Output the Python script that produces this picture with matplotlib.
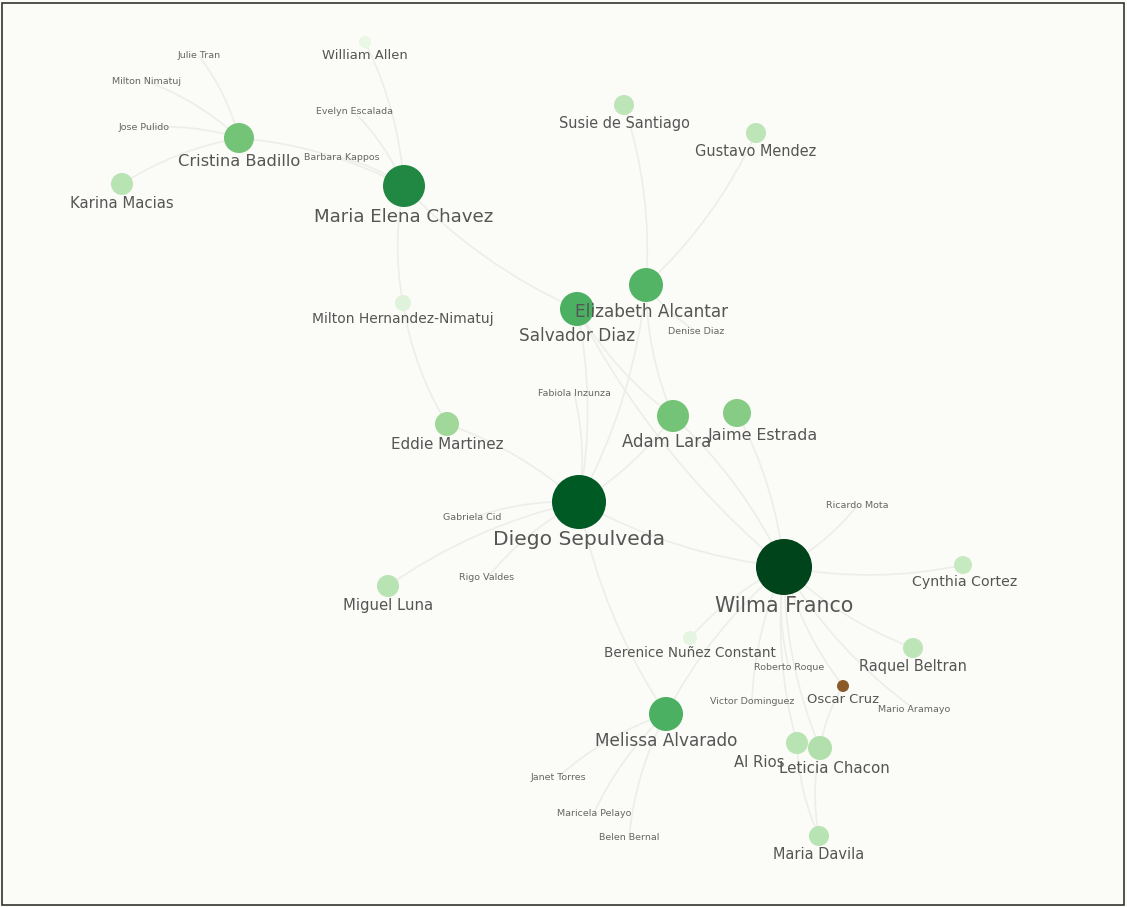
import numpy as np
import matplotlib
matplotlib.use("Agg")
import matplotlib.pyplot as plt
from matplotlib.patches import Circle, PathPatch, Rectangle
from matplotlib.path import Path

# node layout (pixel coords of the original graph), size = weight radius, shade = 0..1 on Greens
names = ["Cristina Badillo", "Karina Macias", "Maria Elena Chavez", "Susie de Santiago",
         "Gustavo Mendez", "Elizabeth Alcantar", "Salvador Diaz", "Milton Hernandez-Nimatuj",
         "Eddie Martinez", "Adam Lara", "Jaime Estrada", "Diego Sepulveda", "Miguel Luna",
         "Wilma Franco", "Cynthia Cortez", "Raquel Beltran", "Oscar Cruz", "Melissa Alvarado",
         "Al Rios", "Leticia Chacon", "Maria Davila", "Berenice Nuñez Constant", "William Allen"]
node_x = [239, 122, 404, 624, 756, 646, 577, 403, 447, 673, 737, 579, 388,
          784, 963, 913, 843, 666, 797, 820, 819, 690, 365]
node_y = [138, 184, 186, 105, 133, 285, 309, 303, 424, 416, 413, 502, 586,
          567, 565, 648, 686, 714, 743, 748, 836, 638, 42]
node_r = [15, 11, 21, 10, 10, 17, 17, 8, 12, 16, 14, 27, 11,
          28, 9, 10, 6, 17, 11, 12, 10, 7, 6]
node_shade = [0.50, 0.30, 0.76, 0.28, 0.28, 0.58, 0.60, 0.15, 0.38, 0.50, 0.45, 0.93, 0.30,
              1.00, 0.25, 0.28, -1, 0.60, 0.30, 0.32, 0.30, 0.12, 0.10]
# where each name sits relative to its dot (most are centred underneath)
label_dx = [0, 0, 0, 0, 0, 6, 0, 0, 0, -6, 26, 0, 0,
            0, 2, 0, 0, 0, -38, 14, 0, 0, 0]

# small people without a visible dot
minor_names = ["Julie Tran", "Milton Nimatuj", "Jose Pulido", "Evelyn Escalada", "Barbara Kappos",
               "Denise Diaz", "Fabiola Inzunza", "Gabriela Cid", "Rigo Valdes", "Ricardo Mota",
               "Roberto Roque", "Victor Dominguez", "Mario Aramayo", "Janet Torres",
               "Maricela Pelayo", "Belen Bernal"]
minor_x = [199, 146, 144, 354, 342, 696, 574, 472, 487, 857, 789, 752, 914, 558, 594, 629]
minor_y = [56, 81, 128, 112, 158, 331, 393, 518, 578, 506, 668, 702, 709, 777, 813, 838]

edges = [("Diego Sepulveda", "Wilma Franco"), ("Diego Sepulveda", "Salvador Diaz"),
         ("Diego Sepulveda", "Adam Lara"), ("Diego Sepulveda", "Eddie Martinez"),
         ("Diego Sepulveda", "Miguel Luna"), ("Diego Sepulveda", "Melissa Alvarado"),
         ("Diego Sepulveda", "Gabriela Cid"), ("Diego Sepulveda", "Fabiola Inzunza"),
         ("Diego Sepulveda", "Rigo Valdes"), ("Diego Sepulveda", "Elizabeth Alcantar"),
         ("Maria Elena Chavez", "Salvador Diaz"), ("Maria Elena Chavez", "Cristina Badillo"),
         ("Maria Elena Chavez", "Milton Hernandez-Nimatuj"), ("Maria Elena Chavez", "Evelyn Escalada"),
         ("Maria Elena Chavez", "William Allen"), ("Maria Elena Chavez", "Barbara Kappos"),
         ("Cristina Badillo", "Julie Tran"), ("Cristina Badillo", "Milton Nimatuj"),
         ("Cristina Badillo", "Jose Pulido"), ("Cristina Badillo", "Karina Macias"),
         ("Elizabeth Alcantar", "Susie de Santiago"), ("Elizabeth Alcantar", "Gustavo Mendez"),
         ("Elizabeth Alcantar", "Adam Lara"), ("Salvador Diaz", "Adam Lara"),
         ("Salvador Diaz", "Wilma Franco"), ("Elizabeth Alcantar", "Denise Diaz"),
         ("Wilma Franco", "Jaime Estrada"), ("Wilma Franco", "Adam Lara"),
         ("Wilma Franco", "Ricardo Mota"), ("Wilma Franco", "Cynthia Cortez"),
         ("Wilma Franco", "Raquel Beltran"), ("Wilma Franco", "Oscar Cruz"),
         ("Wilma Franco", "Roberto Roque"), ("Wilma Franco", "Leticia Chacon"),
         ("Wilma Franco", "Al Rios"), ("Wilma Franco", "Berenice Nuñez Constant"),
         ("Wilma Franco", "Melissa Alvarado"), ("Wilma Franco", "Victor Dominguez"),
         ("Wilma Franco", "Mario Aramayo"), ("Leticia Chacon", "Maria Davila"),
         ("Al Rios", "Maria Davila"), ("Melissa Alvarado", "Janet Torres"),
         ("Melissa Alvarado", "Belen Bernal"), ("Melissa Alvarado", "Maricela Pelayo"),
         ("Milton Hernandez-Nimatuj", "Eddie Martinez"), ("Oscar Cruz", "Leticia Chacon")]

W, H = 1127, 907
BG = "#fbfbf8"
EDGE = "#ededea"
TXT = "#555555"
plt.rcParams['font.family'] = ['DejaVu Sans']

pos = {n: (x, y) for n, x, y in zip(names, node_x, node_y)}
pos.update({n: (x, y) for n, x, y in zip(minor_names, minor_x, minor_y)})

fig = plt.figure(figsize=(W / 100, H / 100), dpi=100, facecolor=BG)
ax = fig.add_axes([0, 0, 1, 1])
ax.set_xlim(0, W)
ax.set_ylim(H, 0)
ax.set_facecolor(BG)
ax.axis("off")

# curved edges (quadratic bezier bent a little off the straight line)
for a, b in edges:
    (x0, y0), (x1, y1) = pos[a], pos[b]
    mx, my = (x0 + x1) / 2, (y0 + y1) / 2
    dx, dy = x1 - x0, y1 - y0
    cx, cy = mx - dy * 0.10, my + dx * 0.10
    path = Path([(x0, y0), (cx, cy), (x1, y1)], [Path.MOVETO, Path.CURVE3, Path.CURVE3])
    ax.add_patch(PathPatch(path, fc="none", ec=EDGE, lw=1.2, zorder=1))

cmap = plt.get_cmap("Greens")
for n, x, y, r, s, ldx in zip(names, node_x, node_y, node_r, node_shade, label_dx):
    col = "#8b5a2b" if s < 0 else cmap(s)
    ax.add_patch(Circle((x, y), r, fc=col, ec="none", zorder=2))
    fs = 1.1 * (7.3 + 0.22 * r)
    ax.text(x + ldx, y + r + 1, n, ha="center", va="top", fontsize=fs, color=TXT, zorder=3)

for n, x, y in zip(minor_names, minor_x, minor_y):
    ax.text(x, y, n, ha="center", va="center", fontsize=6.8, color="#666666", zorder=3)

# thin dark frame round the picture
fig.patches.append(Rectangle((2 / W, 2 / H), 1 - 5 / W, 1 - 5 / H, transform=fig.transFigure,
                             fill=False, ec="#333333", lw=1.2))

fig.savefig("out.png", dpi=100, facecolor=BG)
